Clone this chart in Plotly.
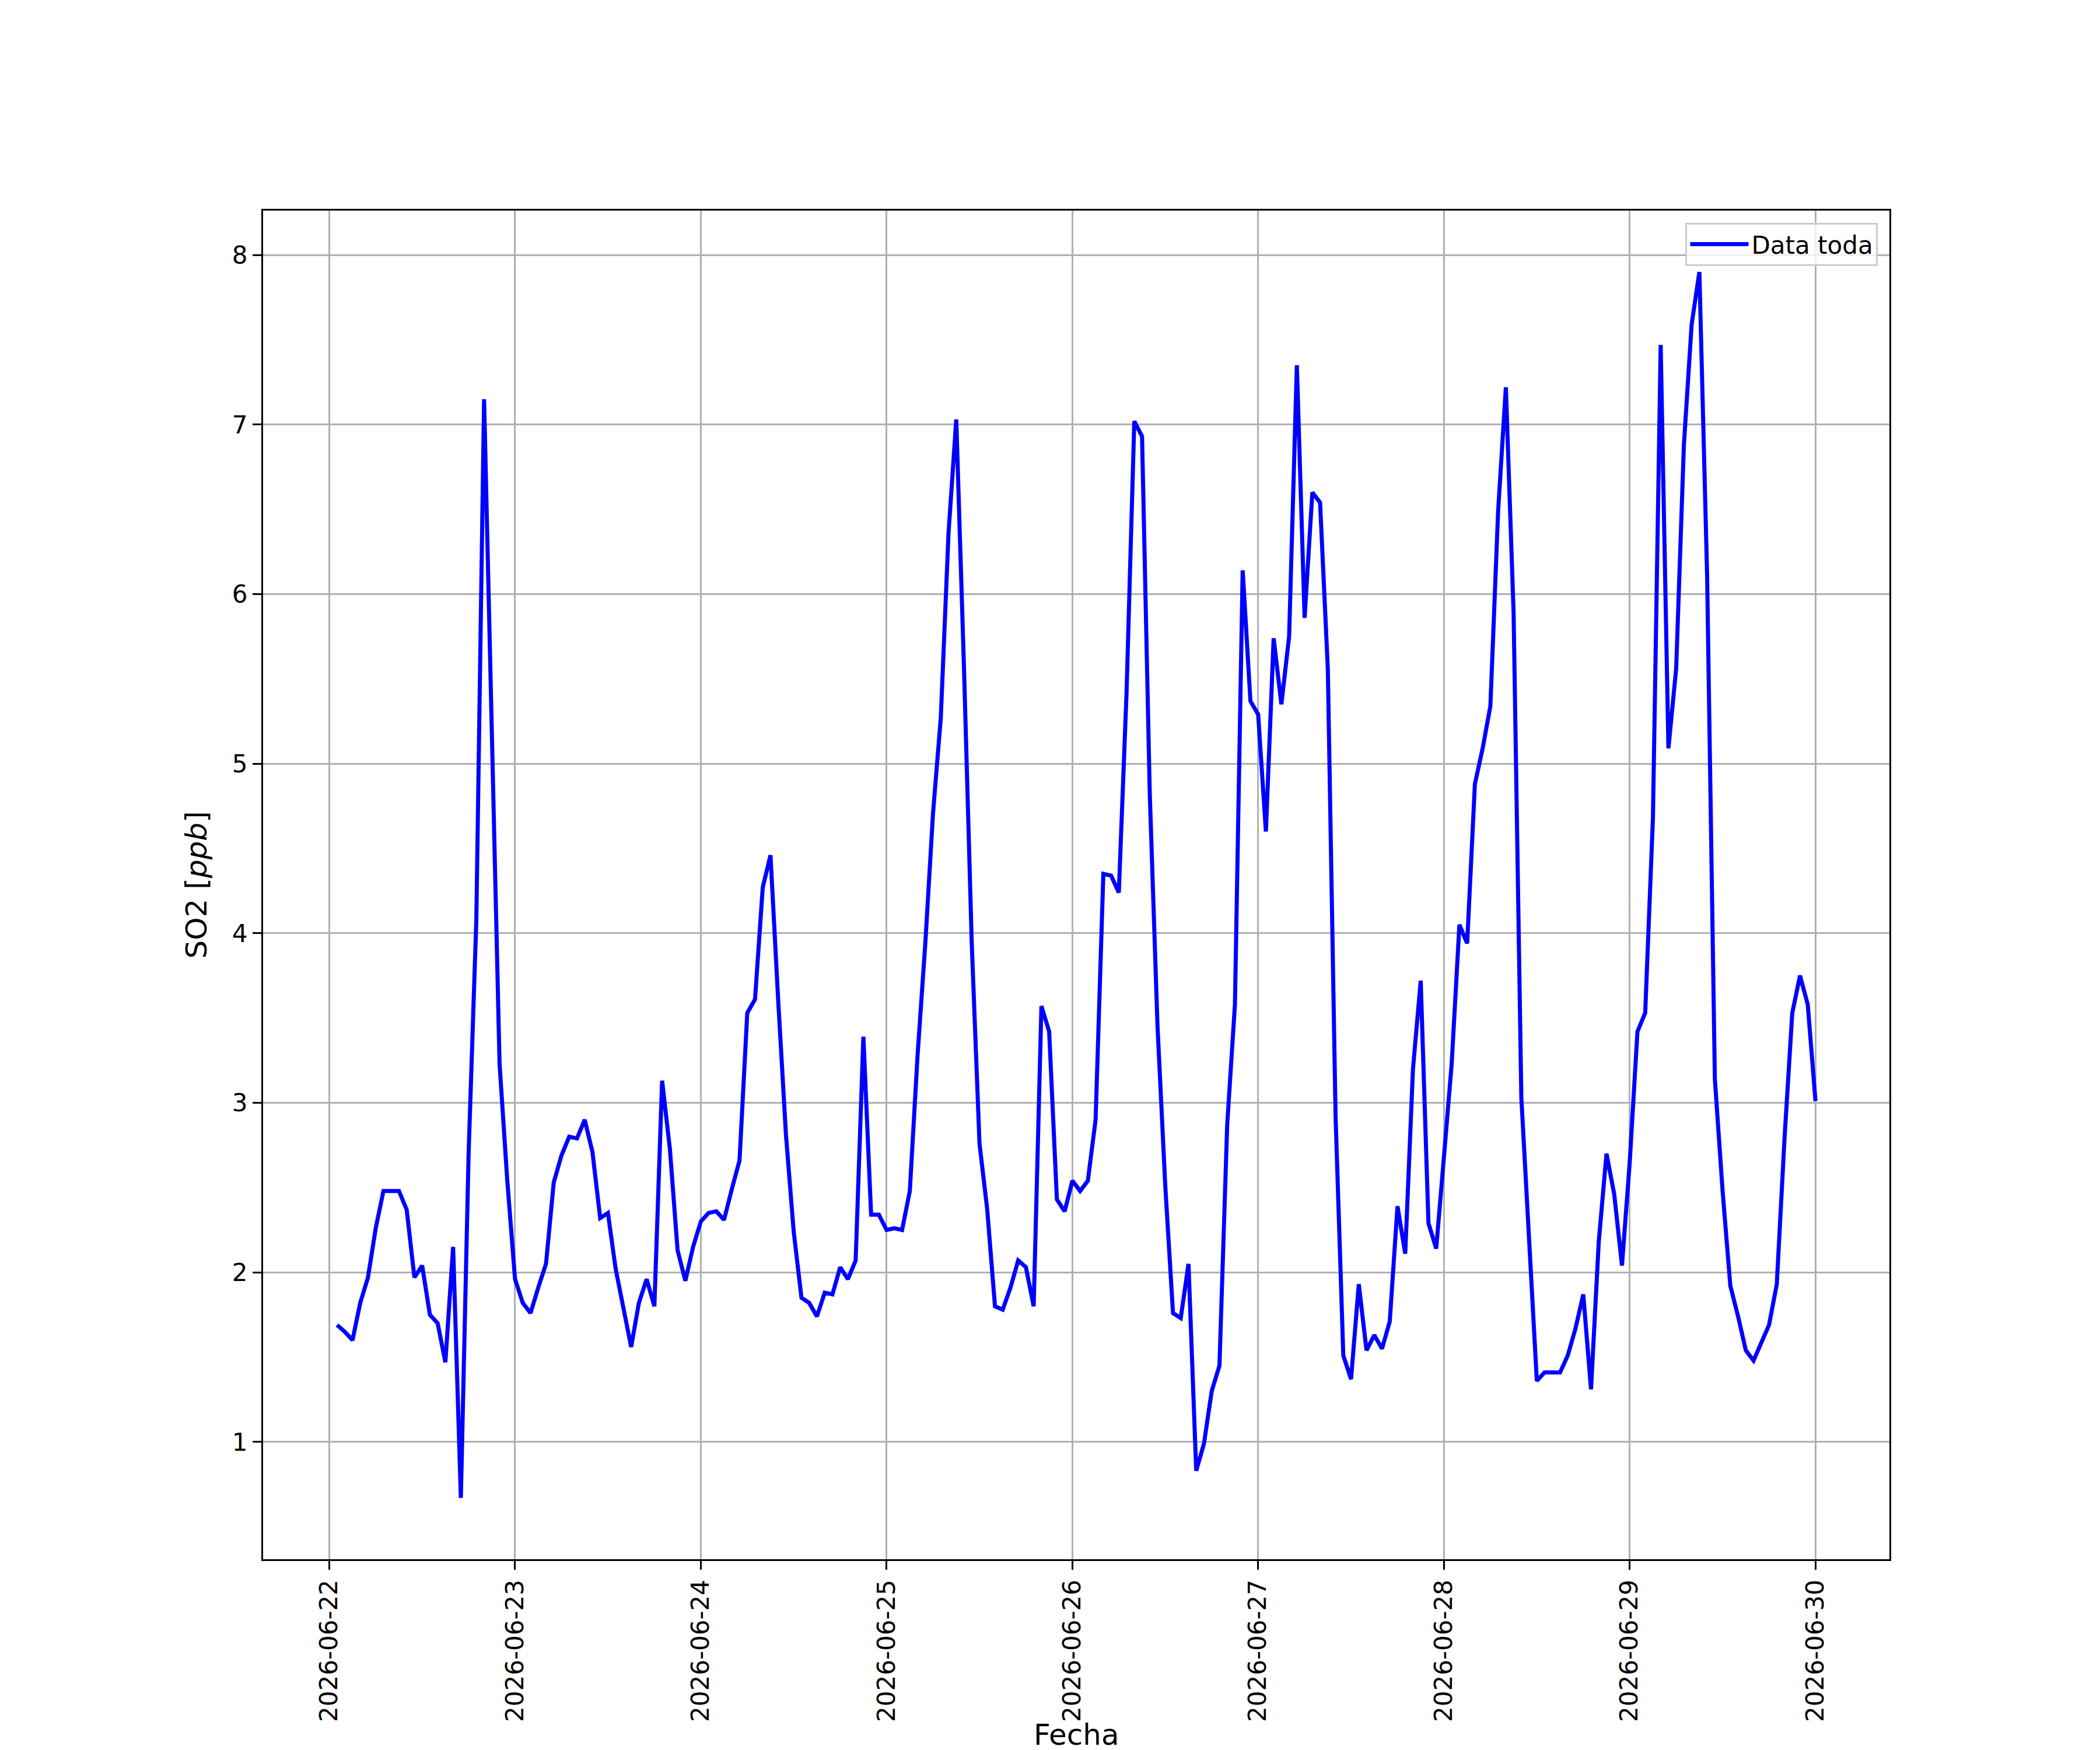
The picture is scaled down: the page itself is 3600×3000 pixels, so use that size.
import pandas as pd
import plotly.graph_objects as go

# ---------------------------------------------------------------------------
# Hourly SO2 readings (ppb), one list per day, hours 01:00 .. 24:00
# ---------------------------------------------------------------------------

day_22 = [1.69, 1.65, 1.60, 1.82, 1.97, 2.26, 2.48, 2.48, 2.48, 2.37, 1.97, 2.04,
          1.75, 1.70, 1.47, 2.15, 0.67, 2.70, 4.08, 7.15, 5.10, 3.23, 2.54, 1.96]
day_23 = [1.82, 1.76, 1.91, 2.05, 2.53, 2.69, 2.80, 2.79, 2.90, 2.71, 2.32, 2.35,
          2.02, 1.80, 1.56, 1.82, 1.96, 1.80, 3.13, 2.73, 2.13, 1.95, 2.15, 2.30]
day_24 = [2.35, 2.36, 2.31, 2.49, 2.66, 3.53, 3.61, 4.27, 4.46, 3.60, 2.81, 2.24,
          1.85, 1.82, 1.74, 1.88, 1.87, 2.03, 1.96, 2.07, 3.39, 2.34, 2.34, 2.25]
day_25 = [2.26, 2.25, 2.48, 3.28, 3.94, 4.71, 5.27, 6.36, 7.03, 5.56, 3.94, 2.76,
          2.37, 1.80, 1.78, 1.91, 2.07, 2.03, 1.80, 3.57, 3.42, 2.43, 2.36, 2.54]
day_26 = [2.48, 2.54, 2.90, 4.35, 4.34, 4.24, 5.42, 7.02, 6.93, 4.82, 3.45, 2.51,
          1.76, 1.73, 2.05, 0.83, 0.99, 1.30, 1.45, 2.87, 3.58, 6.14, 5.37, 5.29]
day_27 = [4.60, 5.74, 5.35, 5.75, 7.35, 5.86, 6.60, 6.54, 5.56, 2.92, 1.51, 1.37,
          1.93, 1.54, 1.63, 1.55, 1.71, 2.39, 2.11, 3.20, 3.72, 2.29, 2.14, 2.68]
day_28 = [3.23, 4.05, 3.94, 4.88, 5.09, 5.34, 6.49, 7.22, 5.89, 3.03, 2.15, 1.36,
          1.41, 1.41, 1.41, 1.51, 1.67, 1.87, 1.31, 2.18, 2.70, 2.46, 2.04, 2.65]
day_29 = [3.42, 3.53, 4.68, 7.47, 5.09, 5.56, 6.88, 7.59, 7.90, 6.11, 3.14, 2.48,
          1.92, 1.74, 1.54, 1.48, 1.58, 1.69, 1.93, 2.79, 3.53, 3.75, 3.58, 3.01]

so2 = day_22 + day_23 + day_24 + day_25 + day_26 + day_27 + day_28 + day_29
fechas = pd.date_range("2026-06-22 01:00", periods=len(so2), freq="h")

tick_days = pd.date_range("2026-06-22", "2026-06-30", freq="D")
tick_labels = [d.strftime("%Y-%m-%d") for d in tick_days]

# ---------------------------------------------------------------------------
# Figure (matplotlib-like look, 12x10 in @ 300 dpi)
# ---------------------------------------------------------------------------

FONT = "DejaVu Sans"
FS = 42          # tick / legend text (10 pt)
FS_LABEL = 50    # axis labels (12 pt)
GRID = "#b0b0b0"

fig = go.Figure()
fig.add_trace(go.Scatter(
    x=fechas,
    y=so2,
    mode="lines",
    name="Data toda",
    line=dict(color="#0000ff", width=7),
))

fig.update_layout(
    width=3600,
    height=3000,
    paper_bgcolor="white",
    plot_bgcolor="white",
    font=dict(family=FONT, size=FS, color="black"),
    margin=dict(l=443, r=369, t=353, b=335),
    showlegend=True,
    legend=dict(
        x=0.993, y=0.991, xanchor="right", yanchor="top",
        bgcolor="rgba(255,255,255,0.8)",
        bordercolor="#cccccc", borderwidth=3,
        font=dict(family=FONT, size=FS),
        itemwidth=100,
        tracegroupgap=0,
    ),
)

# x label sits right at the bottom edge, so place it as an annotation
fig.add_annotation(
    text="Fecha", xref="paper", yref="paper",
    x=0.5, y=-0.1435, xanchor="center", yanchor="bottom",
    showarrow=False, font=dict(family=FONT, size=FS_LABEL, color="black"),
)

fig.update_xaxes(
    range=["2026-06-21 15:27", "2026-06-30 09:33"],
    tickvals=tick_days,
    ticktext=tick_labels,
    tickangle=-90,
    ticks="outside", ticklen=15, tickwidth=3.3, tickcolor="black",
    showgrid=True, gridcolor=GRID, gridwidth=3.3,
    showline=True, linecolor="black", linewidth=3.3, mirror=True,
    zeroline=False,
)
fig.update_yaxes(
    range=[0.308, 8.262],
    tickvals=[1, 2, 3, 4, 5, 6, 7, 8],
    ticks="outside", ticklen=15, tickwidth=3.3, tickcolor="black",
    showgrid=True, gridcolor=GRID, gridwidth=3.3,
    showline=True, linecolor="black", linewidth=3.3, mirror=True,
    zeroline=False,
    title=dict(text="SO2 [<i>ppb</i>]", standoff=28, font=dict(size=FS_LABEL)),
)

fig.write_html("out.html")
